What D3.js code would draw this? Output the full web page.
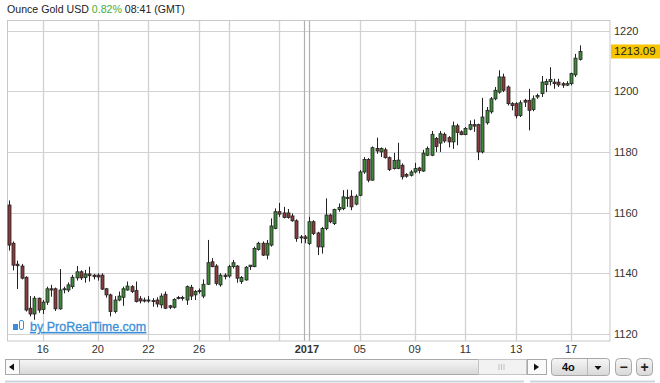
<!DOCTYPE html>
<html><head><meta charset="utf-8">
<script src="https://cdn.jsdelivr.net/npm/d3@7/dist/d3.min.js"></script>
<style>body{margin:0;background:#fff;}svg{display:block;font-family:Arial,"Liberation Sans",sans-serif;}</style>
</head><body><svg id="c" width="660" height="383"></svg>
<script>
const opens=[1162.5,1149.9,1143,1142.4,1138.7,1128.5,1126.6,1131.8,1128.1,1130.5,1134.9,1134.9,1128.3,1134.6,1134.5,1135.6,1138.5,1140.5,1138.6,1139.8,1139.4,1139.4,1139.4,1134.9,1132.9,1127.4,1131.2,1132.1,1134.5,1135.6,1134.3,1131.6,1131.2,1131.2,1131,1131.2,1129.6,1133.1,1129.3,1128.8,1132,1131.7,1131.2,1135.4,1132.9,1134,1132.5,1136.4,1143.8,1142.4,1136.2,1139.4,1139.1,1142.2,1142.4,1137.3,1137.8,1142.2,1142.2,1147.9,1149.9,1146,1149.3,1154.8,1160.3,1159.9,1159.9,1158.9,1157.3,1152,1152,1149.8,1157,1153.3,1148.7,1154.8,1159.2,1156.4,1161,1161.3,1164.7,1165.4,1162.8,1165.7,1173.4,1177.5,1170.7,1181.1,1180,1180.7,1178.1,1174.5,1174.6,1175.6,1172.6,1172.3,1173.4,1174.7,1173.7,1178.9,1178.9,1184.4,1182.9,1185.8,1184.7,1183.3,1188.6,1186.6,1185.7,1187.5,1189,1189,1180,1189.6,1193.2,1197.5,1199.7,1204.7,1201.4,1195.9,1195.9,1192,1197,1197,1194,1198.1,1199.2,1202.2,1203.2,1203,1203,1202.5,1202,1202.5,1205.4,1210.5];
const highs=[1164,1150.5,1144.2,1143.1,1139,1132.5,1132.5,1132,1131.2,1135.6,1136.2,1135.3,1141.4,1135.6,1137,1139.5,1142.4,1141,1141.1,1142.2,1139.8,1140,1140,1135.2,1133.3,1132.5,1134,1135.6,1137.3,1136.1,1137.3,1132.5,1132,1132.5,1131.8,1132.1,1133.4,1134,1129.6,1131.8,1132.5,1132.6,1136,1136.2,1134.5,1135,1138,1151,1145,1143,1140,1140,1142.8,1144.4,1142.7,1139.1,1142.4,1142.7,1148.8,1150.4,1150.5,1151,1158.1,1161.4,1163.2,1161.9,1161.2,1159.7,1157.8,1152.6,1152.6,1158.6,1157.5,1153.7,1155.3,1164.7,1159.7,1161.3,1163,1167.4,1167.6,1167.4,1166,1174,1178.3,1178,1181.8,1184.7,1181.5,1181.4,1178.5,1179.7,1183,1176.2,1173,1174,1176.4,1175.1,1180.7,1181.8,1186.9,1184.9,1186.9,1186.4,1185.2,1190,1189.3,1187.1,1188.2,1190.4,1190.7,1189.3,1197.8,1194.8,1198.1,1201.4,1206.9,1205.8,1201.9,1196.4,1196.4,1197,1197.5,1200.8,1198.6,1199.2,1205,1204.1,1207.9,1204.1,1204.1,1203,1203.3,1206.1,1212.3,1215.1];
const lows=[1147.5,1141,1134.8,1138,1127.4,1125.8,1124.7,1127,1126.6,1129.6,1132.3,1127.6,1128,1133.4,1133.8,1134.9,1137.6,1137.8,1136.9,1137.3,1138,1137.6,1134.5,1132,1125.8,1126.8,1130.8,1129.3,1134.3,1133.5,1130.4,1130.1,1130.4,1130.3,1129,1128.8,1128.5,1128.2,1128.2,1128.4,1131.4,1131,1129.6,1131.2,1131.2,1133.3,1131.8,1136.2,1142,1136,1135.6,1138,1138.5,1141.6,1136.9,1136.5,1137.6,1141.1,1142,1147.5,1145.7,1144.6,1148.8,1154.5,1158.6,1158.1,1158,1157,1150.4,1149.9,1149.9,1149.3,1152.6,1146,1146.5,1154.2,1156.5,1155.9,1160.3,1160.8,1161.9,1160.8,1162.4,1165.4,1172.8,1170,1170.5,1179.4,1178.3,1177.8,1173.7,1174.2,1174.3,1170.9,1171.5,1171.9,1172.9,1172.9,1173.4,1178.6,1178.6,1180,1180,1183,1181.5,1181,1182.2,1185.5,1185.5,1187.1,1186.6,1177.3,1179.5,1189,1192.6,1197,1199.2,1199.7,1195.3,1193.7,1191,1191.5,1194.8,1187.1,1193.4,1197.5,1198.1,1199.7,1201.9,1200.8,1201.4,1201.1,1201.7,1201.9,1204.7,1210.1];
const closes=[1149.3,1142.7,1142.5,1138.4,1127.9,1126.6,1131.8,1127.9,1130.5,1134.9,1134.5,1128.3,1134.5,1134.9,1136.2,1138.7,1140.5,1138.5,1139.8,1139.2,1138.9,1138.8,1134.8,1132.9,1127.4,1131.2,1132.5,1134.9,1135.8,1134,1130.7,1130.9,1130.9,1130.9,1130.8,1129.9,1132.5,1128.5,1128.8,1131.4,1131.7,1132,1135.6,1132.5,1134,1134.3,1136.4,1143.5,1142.2,1136.7,1139.4,1138.9,1142.2,1143.5,1138.4,1138.6,1142,1142.7,1148.2,1149.9,1146,1149.9,1155.6,1160.3,1159.5,1158.4,1158.4,1157.3,1151.5,1151.7,1151.5,1157,1153.1,1148.7,1154.8,1159.2,1157,1161,1161.7,1165.2,1165,1161.9,1165.4,1173.4,1177.5,1170.7,1181.4,1180.3,1181.1,1178.1,1174.2,1177.2,1177.3,1171.8,1172,1173.4,1174.5,1173.9,1179.6,1181.1,1185.8,1181.8,1186,1183.6,1183.3,1188.6,1186.4,1185.7,1187.7,1189,1188.5,1180,1191.5,1193.7,1197.5,1200.3,1204.7,1200.3,1195.9,1195.3,1191.9,1196.2,1196.4,1193.7,1197.5,1198.6,1203,1203.2,1203.9,1202.5,1202.1,1202,1202.5,1205.8,1210.9,1213.09];
const yTicks=[1120,1140,1160,1180,1200,1220];
const xTickPos=[8,21,33,45,52,64,70.5,83,96,108,120,133];
const xTickLabels=["16","20","22","26","","","2017","05","09","11","13","17"];
const yearTick="2017";
const title="Ounce Gold USD";
const change="0.82%";
const timeText="08:41 (GMT)";
const lastPrice="1213.09";
const period="4o";

const svg=d3.select("#c");
const L=7.5,R=610,T=20.5,B=341;
const n=opens.length;
const x=d3.scaleLinear().domain([-0.355,142.2]).range([L,R]);
const y=d3.scaleLinear().domain([1117.7,1223.3]).range([B,T]);

// header
const h=svg.append("text").attr("x",7).attr("y",13).attr("font-size",10.6).attr("fill","#222");
h.append("tspan").text(title+" ");
h.append("tspan").attr("fill","#3fae3f").text(change);
h.append("tspan").text(" "+timeText);

// grid
const g=svg.append("g");
g.selectAll(".hg").data(yTicks).join("line")
 .attr("x1",L).attr("x2",R).attr("y1",d=>Math.round(y(d))+0.5).attr("y2",d=>Math.round(y(d))+0.5)
 .attr("stroke","#d2d2d2").attr("stroke-width",1.2);
xTickPos.forEach((p,i)=>{
  const xx=Math.round(x(p))+0.5;
  if(xTickLabels[i]===yearTick){
    [-3,2].forEach(o=>g.append("line").attr("x1",xx+o).attr("x2",xx+o).attr("y1",T).attr("y2",B).attr("stroke","#b0b0b0").attr("stroke-width",1.2));
  } else {
    g.append("line").attr("x1",xx).attr("x2",xx).attr("y1",T).attr("y2",B).attr("stroke","#d2d2d2").attr("stroke-width",1.3);
  }
});
// frame
svg.append("rect").attr("x",L).attr("y",T).attr("width",R-L).attr("height",B-T).attr("fill","none").attr("stroke","#c8c8c8");

// y labels
svg.selectAll(".yl").data(yTicks).join("text").attr("x",614).attr("y",d=>y(d)+4)
 .attr("font-size",11).attr("fill","#333").text(d=>d);

// x labels
svg.selectAll(".xl").data(xTickPos).join("text").attr("x",d=>x(d)).attr("y",353)
 .attr("text-anchor","middle").attr("font-size",11).attr("fill","#333")
 .attr("font-weight",(d,i)=>xTickLabels[i]===yearTick?"bold":"normal").text((d,i)=>xTickLabels[i]);

// candles
const idx=d3.range(n);
const cg=svg.append("g");
cg.selectAll(".w").data(idx).join("line")
 .attr("x1",i=>Math.round(x(i))+0.5).attr("x2",i=>Math.round(x(i))+0.5)
 .attr("y1",i=>y(highs[i])).attr("y2",i=>y(lows[i])).attr("stroke","#222").attr("stroke-width",1);
cg.selectAll(".b").data(idx).join("rect")
 .attr("x",i=>Math.round(x(i))-1).attr("width",3)
 .attr("y",i=>y(Math.max(opens[i],closes[i])))
 .attr("height",i=>Math.max(1,Math.abs(y(opens[i])-y(closes[i]))))
 .attr("fill",i=>closes[i]>=opens[i]?"#3f8a3a":"#8a3b3d")
 .attr("stroke","#222").attr("stroke-width",0.8);

// last price label
const ly=y(closes[n-1]);
svg.append("rect").attr("x",611).attr("y",ly-7).attr("width",49).attr("height",14).attr("fill","#f6c500");
svg.append("text").attr("x",614).attr("y",ly+4).attr("font-size",11.5).attr("fill","#222").text(lastPrice);

// watermark
const wm=svg.append("g");
wm.append("rect").attr("x",13).attr("y",324).attr("width",5).attr("height",6).attr("fill","#3a8fd8");
wm.append("rect").attr("x",19.5).attr("y",320.5).attr("width",4).attr("height",9).attr("rx",1.5).attr("fill","none").attr("stroke","#3a8fd8");
wm.append("text").attr("x",30).attr("y",331).attr("font-size",12.5).attr("fill","#3a8fd8")
 .attr("stroke","#3a8fd8").attr("stroke-width",0.3)
 .attr("text-decoration","underline").text("by ProRealTime.com");

// scrollbar
const sb=svg.append("g");
const grad=svg.append("defs").append("linearGradient").attr("id","sg").attr("x1",0).attr("y1",0).attr("x2",0).attr("y2",1);
grad.append("stop").attr("offset","0").attr("stop-color","#f6f6f6");
grad.append("stop").attr("offset","1").attr("stop-color","#d8d8d8");
sb.append("rect").attr("x",5.5).attr("y",359.5).attr("width",541).attr("height",15).attr("fill","url(#sg)").attr("stroke","#a8a8a8");
sb.append("rect").attr("x",5.5).attr("y",359.5).attr("width",14).attr("height",15).attr("fill","#fafafa").attr("stroke","#a8a8a8");
sb.append("path").attr("d","M9,367 L14,363.5 L14,370.5 Z").attr("fill","#111");
sb.append("rect").attr("x",478.5).attr("y",359.5).attr("width",48).attr("height",15).attr("fill","#f2f2f2").attr("stroke","#c4c4c4");
[499,501.5,504].forEach(v=>sb.append("line").attr("x1",v).attr("x2",v).attr("y1",364).attr("y2",370).attr("stroke","#c0c0c0"));
sb.append("rect").attr("x",527.5).attr("y",359.5).attr("width",19).attr("height",15).attr("fill","#fafafa").attr("stroke","#a8a8a8");
sb.append("path").attr("d","M534,363.5 L539,367 L534,370.5 Z").attr("fill","#111");
// period box
sb.append("rect").attr("x",551.5).attr("y",358.5).attr("width",58).attr("height",17).attr("rx",3).attr("fill","url(#sg)").attr("stroke","#a8a8a8");
sb.append("line").attr("x1",587.5).attr("x2",587.5).attr("y1",359).attr("y2",375).attr("stroke","#b8b8b8");
sb.append("text").attr("x",562).attr("y",371).attr("font-size",11).attr("font-weight","bold").attr("fill","#111").text(period);
sb.append("path").attr("d","M594.5,366 L601.5,366 L598,370 Z").attr("fill","#111");
// - and +
[[615.5,"−"],[636.5,"+"]].forEach(([bx,t])=>{
  sb.append("rect").attr("x",bx).attr("y",358.5).attr("width",16).attr("height",17).attr("rx",4).attr("fill","url(#sg)").attr("stroke","#a8a8a8");
  sb.append("text").attr("x",bx+8).attr("y",371.5).attr("text-anchor","middle").attr("font-size",14).attr("font-weight","bold").attr("fill","#222").text(t);
});
// bottom faint line
sb.append("line").attr("x1",5).attr("x2",524).attr("y1",381.5).attr("y2",381.5).attr("stroke","#c9d6dc").attr("stroke-width",2);
sb.append("line").attr("x1",530).attr("x2",655).attr("y1",381.5).attr("y2",381.5).attr("stroke","#c9d6dc").attr("stroke-width",2);
</script></body></html>
